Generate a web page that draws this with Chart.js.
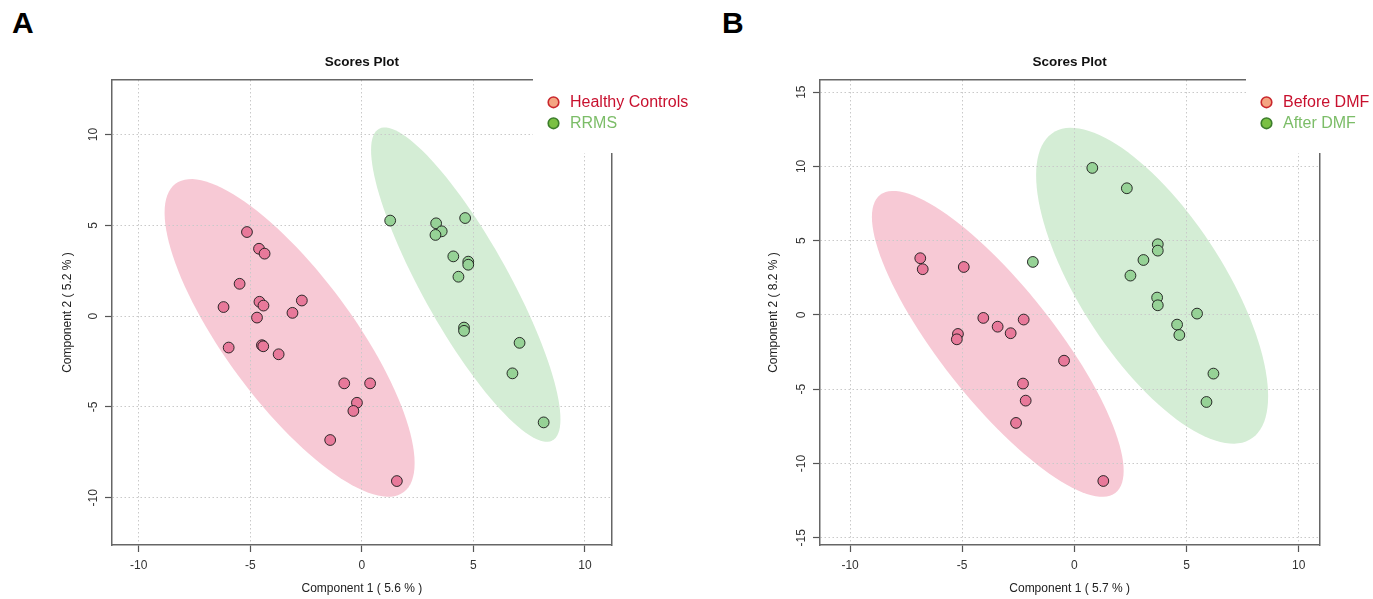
<!DOCTYPE html>
<html>
<head>
<meta charset="utf-8">
<script src="https://cdn.jsdelivr.net/npm/chart.js@4.4.1/dist/chart.umd.min.js"></script>
<style>
  body{margin:0;background:#fff;width:1373px;height:599px;overflow:hidden;position:relative;}
  .lbl{position:absolute;top:8px;font:bold 30px "Liberation Sans",Arial,sans-serif;line-height:30px;color:#000;}
  canvas{position:absolute;top:0;}
</style>
</head>
<body>
<div class="lbl" style="left:12px">A</div>
<div class="lbl" style="left:722px">B</div>
<canvas id="chartA" width="730" height="599" style="left:0px"></canvas>
<canvas id="chartB" width="687" height="599" style="left:686px"></canvas>
<script>
'use strict';

// ---------- data ----------
let groupsA = ['Healthy Controls', 'RRMS'];
let groupsB = ['Before DMF', 'After DMF'];

let hcX = [-5.15,-4.61,-4.36,-5.48,-6.20,-4.59,-4.41,-2.69,-3.11,-4.70,-5.97,-4.48,-4.42,-3.73,-0.79,0.37,-0.22,-0.38,-1.42,1.57];
let hcY = [4.63,3.71,3.44,1.78,0.50,0.79,0.58,0.86,0.18,-0.08,-1.73,-1.60,-1.66,-2.10,-3.70,-3.70,-4.77,-5.22,-6.82,-9.08];

let rrmsX = [1.27,3.33,3.58,3.30,4.63,4.10,4.77,4.77,4.33,4.58,4.58,7.07,6.75,8.15];
let rrmsY = [5.26,5.11,4.67,4.47,5.40,3.29,3.00,2.83,2.17,-0.63,-0.81,-1.47,-3.15,-5.85];

let beforeX = [-6.87,-6.76,-4.93,-4.06,-3.42,-2.84,-2.26,-5.19,-5.24,-0.46,-2.29,-2.17,-2.60,1.29];
let beforeY = [3.82,3.08,3.23,-0.20,-0.79,-1.23,-0.31,-1.28,-1.64,-3.08,-4.62,-5.77,-7.27,-11.18];

let afterX = [0.80,2.34,-1.85,3.72,3.72,3.08,2.50,3.69,3.72,5.47,4.58,4.68,6.20,5.89];
let afterY = [9.90,8.53,3.57,4.76,4.33,3.70,2.65,1.17,0.65,0.09,-0.65,-1.35,-3.95,-5.86];

let xTicks = [-10,-5,0,5,10];
let yTicksA = [-10,-5,0,5,10];
let yTicksB = [-15,-10,-5,0,5,10,15];

let xTitleA = 'Component 1 ( 5.6 % )';
let yTitleA = 'Component 2 ( 5.2 % )';
let xTitleB = 'Component 1 ( 5.7 % )';
let yTitleB = 'Component 2 ( 8.2 % )';

// ---------- styles ----------
let FONT = '"Liberation Sans", Arial, sans-serif';
let pointFill = ['#e8799a', '#96d296'];
let ellipseFill = ['#f7c9d5', '#d4edd5'];
let legendFill = ['#f4a582', '#7ac143'];
let legendStroke = ['#c9272d', '#3c7d2b'];
let legendColor = ['#c8102e', '#7cbd68'];

function toPoints(xs, ys){
    let pts = [];
    for(let i=0;i<xs.length;i++){
        pts.push({x:xs[i], y:ys[i]});
    }
    return pts;
}

// 95% confidence ellipse from the sample covariance (chi-square, 2 df)
function ellipseOf(xs, ys){
    let n = xs.length;
    let mx = 0, my = 0;
    for(let i=0;i<n;i++){ mx += xs[i]; my += ys[i]; }
    mx /= n; my /= n;
    let sxx = 0, syy = 0, sxy = 0;
    for(let i=0;i<n;i++){
        sxx += (xs[i]-mx)*(xs[i]-mx);
        syy += (ys[i]-my)*(ys[i]-my);
        sxy += (xs[i]-mx)*(ys[i]-my);
    }
    sxx /= (n-1); syy /= (n-1); sxy /= (n-1);
    let k = Math.sqrt(5.991);
    let a = Math.sqrt(sxx);
    let b = sxy / a;
    let c = Math.sqrt(syy - b*b);
    let out = [];
    for(let i=0;i<=120;i++){
        let t = i/120*Math.PI*2;
        let u = Math.cos(t), v = Math.sin(t);
        out.push({x: mx + k*a*u, y: my + k*(b*u + c*v)});
    }
    return out;
}

let ellipsePlugin = {
    id: 'ellipses',
    beforeDraw(chart){
        let ctx = chart.ctx;
        let xs = chart.scales.x, ys = chart.scales.y;
        chart.data.datasets.forEach(function(ds, i){
            let pts = ellipseOf(ds.data.map(p=>p.x), ds.data.map(p=>p.y));
            ctx.save();
            ctx.beginPath();
            pts.forEach(function(p, j){
                let px = xs.getPixelForValue(p.x), py = ys.getPixelForValue(p.y);
                if(j===0) ctx.moveTo(px, py); else ctx.lineTo(px, py);
            });
            ctx.closePath();
            ctx.fillStyle = ellipseFill[i];
            ctx.fill();
            ctx.restore();
        });
    }
};

let legendPlugin = {
    id: 'cornerLegend',
    afterDraw(chart){
        let ctx = chart.ctx;
        let area = chart.chartArea;
        let o = chart.options.plugins.cornerLegend;
        let left = area.right - o.cornerW;
        ctx.save();
        ctx.fillStyle = '#ffffff';
        ctx.fillRect(left, area.top - 3, o.cornerW + 4, 76);
        ctx.font = '16px ' + FONT;
        ctx.textBaseline = 'middle';
        ctx.textAlign = 'left';
        o.names.forEach(function(name, i){
            let cy = area.top + 22.3 + i*21;
            let cx = left + 20.5;
            ctx.beginPath();
            ctx.arc(cx, cy, 5.3, 0, Math.PI*2);
            ctx.fillStyle = legendFill[i];
            ctx.fill();
            ctx.lineWidth = 1.6;
            ctx.strokeStyle = legendStroke[i];
            ctx.stroke();
            ctx.fillStyle = legendColor[i];
            ctx.fillText(name, cx + 16.5, cy + 0.5);
        });
        ctx.restore();
    }
};

function makeScatter(id, cfg){
    let gridOpts = {
        color: '#c9c9c9',
        lineWidth: 1,
        tickLength: 7,
        tickColor: '#555',
        tickWidth: 1.2,
        tickBorderDash: []
    };
    let borderOpts = {display: true, color: '#666', width: 1.5, dash: [1.5,2.5]};
    let tickFont = {family: FONT, size: 12};

    return new Chart(document.getElementById(id), {
        type: 'scatter',
        data: {
            datasets: cfg.series.map(function(s, i){
                return {
                    label: cfg.names[i],
                    data: toPoints(s[0], s[1]),
                    xAxisID: 'x',
                    yAxisID: 'y',
                    backgroundColor: pointFill[i],
                    borderColor: 'rgba(25,25,25,0.9)',
                    borderWidth: 1,
                    pointRadius: 5.4,
                    pointHoverRadius: 5.4
                };
            })
        },
        options: {
            responsive: false,
            animation: false,
            devicePixelRatio: 1,
            layout: {padding: cfg.padding},
            plugins: {
                legend: {display: false},
                tooltip: {enabled: false},
                title: {
                    display: true,
                    text: 'Scores Plot',
                    fullSize: false,
                    color: '#111',
                    font: {family: FONT, size: 13.5, weight: 'bold'},
                    padding: {top: 0, bottom: 9.9}
                },
                cornerLegend: {names: cfg.names, cornerW: cfg.cornerW}
            },
            scales: {
                x: {
                    type: 'linear',
                    position: 'bottom',
                    min: cfg.xRange[0],
                    max: cfg.xRange[1],
                    afterBuildTicks: s => { s.ticks = xTicks.map(v => ({value: v})); },
                    afterFit: s => { s.height = 54; },
                    grid: gridOpts,
                    border: borderOpts,
                    ticks: {color: '#333', font: tickFont, padding: 6, maxRotation: 0},
                    title: {display: true, text: cfg.xTitle, color: '#222', font: tickFont, padding: {top: 0, bottom: 2.8}}
                },
                y: {
                    type: 'linear',
                    position: 'left',
                    min: cfg.yRange[0],
                    max: cfg.yRange[1],
                    afterBuildTicks: s => { s.ticks = cfg.yTicks.map(v => ({value: v})); },
                    afterFit: s => { s.width = cfg.yWidth; },
                    grid: gridOpts,
                    border: borderOpts,
                    ticks: {color: '#333', font: tickFont, padding: 2.5, minRotation: 90, maxRotation: 90, crossAlign: 'center'},
                    title: {display: true, text: cfg.yTitle, color: '#222', font: tickFont, padding: {top: 5, bottom: 0}}
                },
                // top and right sides of the box
                x2: {
                    type: 'linear', position: 'top',
                    afterFit: s => { s.height = 0; },
                    grid: {drawOnChartArea: false, drawTicks: false},
                    ticks: {display: false},
                    border: {display: true, color: '#666', width: 1.5}
                },
                y2: {
                    type: 'linear', position: 'right',
                    afterFit: s => { s.width = 0; },
                    grid: {drawOnChartArea: false, drawTicks: false},
                    ticks: {display: false},
                    border: {display: true, color: '#666', width: 1.5}
                }
            }
        },
        plugins: [ellipsePlugin, legendPlugin]
    });
}

makeScatter('chartA', {
    names: groupsA,
    series: [[hcX, hcY], [rrmsX, rrmsY]],
    xRange: [-11.2, 11.2],
    yRange: [-12.6, 13.0],
    yTicks: yTicksA,
    xTitle: xTitleA,
    yTitle: yTitleA,
    padding: {left: 55, top: 53.9, right: 118.3, bottom: 0},
    yWidth: 57,
    cornerW: 78.7
});

makeScatter('chartB', {
    names: groupsB,
    series: [[beforeX, beforeY], [afterX, afterY]],
    xRange: [-11.34, 10.92],
    yRange: [-15.49, 15.82],
    yTicks: yTicksB,
    xTitle: xTitleB,
    yTitle: yTitleB,
    padding: {left: 75.3, top: 53.9, right: 53.7, bottom: 0},
    yWidth: 58.7,
    cornerW: 73.3
});
</script>
</body>
</html>
